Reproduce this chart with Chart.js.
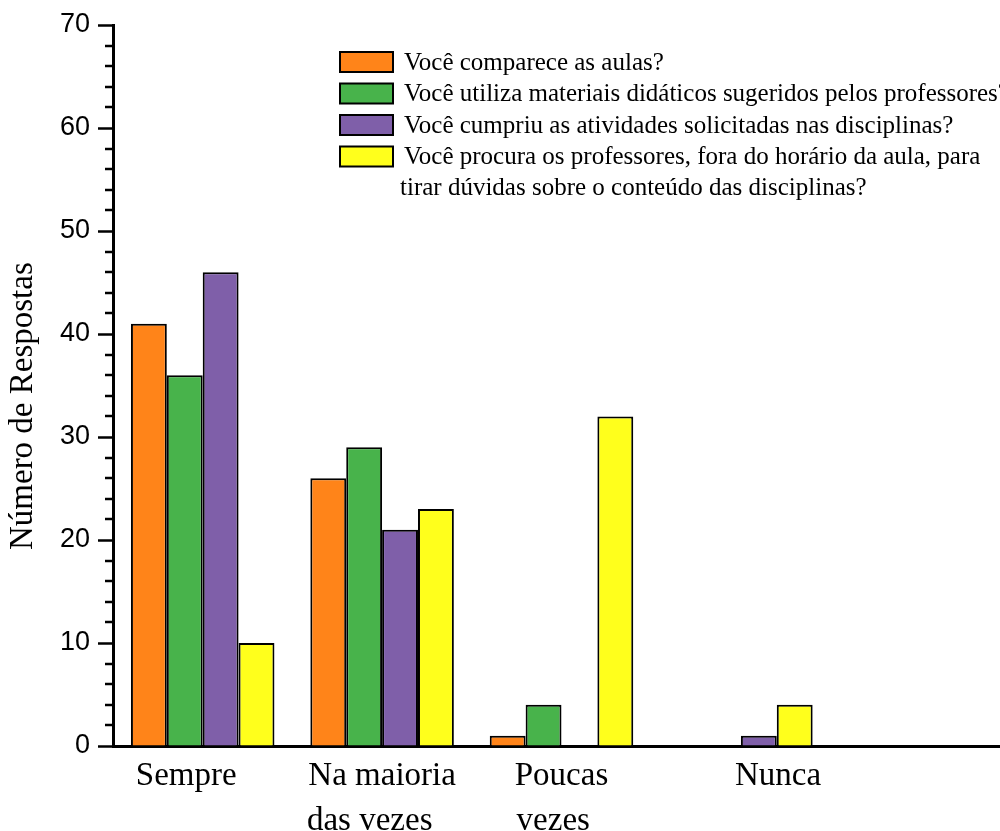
<!DOCTYPE html>
<html>
<head>
<meta charset="utf-8">
<script src="https://cdn.jsdelivr.net/npm/chart.js@4.4.1/dist/chart.umd.min.js"></script>
<style>
  html, body { margin: 0; padding: 0; background: #fff; overflow: hidden; }
  #wrap { width: 1010px; height: 831px; }
</style>
</head>
<body>
<div id="wrap"><canvas id="c" width="1010" height="831"></canvas></div>
<script>
// ---- data ----
const categories = ['Sempre    ', ['Na maioria', 'das vezes   '], ['Poucas', 'vezes  '], '         Nunca', ''];
const seriesLabels = [
  'Você comparece as aulas?',
  'Você utiliza materiais didáticos sugeridos pelos professores?',
  'Você cumpriu as atividades solicitadas nas disciplinas?',
  'Você procura os professores, fora do horário da aula, para\ntirar dúvidas sobre o conteúdo das disciplinas?'
];
const comparece = [41, 26, 1, 0, null];
const materiais = [36, 29, 4, 0, null];
const atividades = [46, 21, 0, 1, null];
const procura = [10, 23, 32, 4, null];
const seriesColors = ['#ff8419', '#48b34b', '#7f5fa9', '#ffff1c'];
const yTicks = [0, 10, 20, 30, 40, 50, 60, 70];

const serif = "'Liberation Serif', 'Times New Roman', serif";
const sans = "'Liberation Sans', Arial, sans-serif";

const minorTicks = {
  id: 'minorTicks',
  afterDraw(chart) {
    const y = chart.scales.y;
    const ctx = chart.ctx;
    ctx.save();
    ctx.strokeStyle = '#000';
    ctx.lineWidth = 2.5;
    for (let v = 0; v <= 70; v += 2) {
      if (v % 10 === 0) continue;
      const py = Math.round(y.getPixelForValue(v));
      ctx.beginPath();
      ctx.moveTo(y.right - 8, py);
      ctx.lineTo(y.right, py);
      ctx.stroke();
    }
    ctx.restore();
  }
};

const boxLegend = {
  id: 'boxLegend',
  afterDraw(chart) {
    const ctx = chart.ctx;
    const ca = chart.chartArea;
    const x0 = ca.left + 227;
    let yc = ca.top + 37;
    ctx.save();
    ctx.font = '25px ' + serif;
    ctx.textBaseline = 'middle';
    ctx.textAlign = 'left';
    chart.data.datasets.forEach((ds) => {
      ctx.fillStyle = ds.backgroundColor;
      ctx.fillRect(x0, yc - 10, 53, 20);
      ctx.strokeStyle = '#000';
      ctx.lineWidth = 2;
      ctx.strokeRect(x0, yc - 10, 53, 20);
      ctx.fillStyle = '#000';
      const lines = ds.label.split('\n');
      lines.forEach((ln, i) => {
        ctx.fillText(ln, x0 + (i === 0 ? 64 : 60), yc + 1 + i * 31);
      });
      yc += 31.5 * lines.length;
    });
    ctx.restore();
  }
};

const data = {
  labels: categories,
  datasets: [comparece, materiais, atividades, procura].map((arr, i) => ({
    label: seriesLabels[i],
    data: arr,
    backgroundColor: seriesColors[i],
    borderColor: '#000',
    borderWidth: 2,
    borderSkipped: 'bottom',
    categoryPercentage: 0.8,
    barPercentage: 1.0
  }))
};

new Chart(document.getElementById('c'), {
  type: 'bar',
  data,
  plugins: [minorTicks, boxLegend],
  options: {
    responsive: false,
    animation: false,
    devicePixelRatio: 1,
    layout: { padding: { top: 25, right: 0, left: 0, bottom: 0 } },
    plugins: { legend: { display: false }, tooltip: { enabled: false } },
    scales: {
      x: {
        grid: { display: false, drawTicks: false },
        border: { display: true, color: '#000', width: 3 },
        ticks: {
          color: '#000',
          font: { family: serif, size: 33, lineHeight: 1.36 },
          padding: 8,
          autoSkip: false,
          maxRotation: 0,
          minRotation: 0
        },
        afterFit(scale) { scale.height = 85; }
      },
      y: {
        min: 0,
        max: 70,
        afterBuildTicks(scale) { scale.ticks = yTicks.map(v => ({ value: v })); },
        grid: { drawOnChartArea: false, drawTicks: true, tickLength: 15, tickWidth: 2.5, tickColor: '#000' },
        border: { display: true, color: '#000', width: 3 },
        ticks: {
          color: '#000',
          font: { family: sans, size: 27 },
          padding: 8
        },
        title: {
          display: true,
          text: 'Número de Respostas     ',
          color: '#000',
          font: { family: serif, size: 33 },
          padding: { top: 4, bottom: 0 }
        },
        afterFit(scale) { scale.width = 113; }
      }
    }
  }
});
</script>
</body>
</html>
